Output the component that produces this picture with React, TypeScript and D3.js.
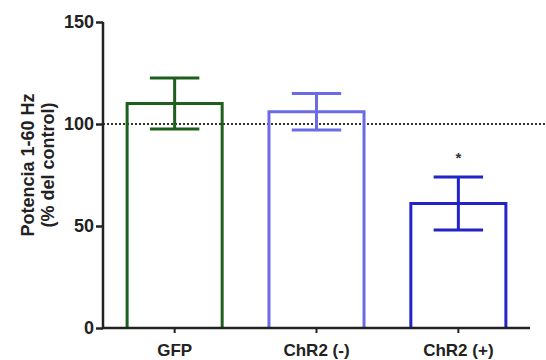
import React, { useEffect, useRef } from 'react';
import * as d3 from 'd3';

// data
const groups = ['GFP', 'ChR2 (-)', 'ChR2 (+)'];
const means = [110, 106, 61];
const errors = [12.5, 9, 13];
const colors = ['#1e5f1e', '#6b6be6', '#2323c8'];
const yTicks = [0, 50, 100, 150];
const starGroups = ['ChR2 (+)'];

const App = () => {
  const svgRef = useRef<SVGSVGElement>(null);

  useEffect(() => {
    const width = 546;
    const height = 360;
    const svg = d3.select(svgRef.current);
    svg.selectAll('*').remove();
    svg.attr('width', width).attr('height', height);

    const x = d3.scaleBand()
      .domain(groups)
      .range([103, 530])
      .paddingInner(0.33)
      .paddingOuter(0.17);
    const y = d3.scaleLinear().domain([0, 150]).range([328, 22]);

    const font = 'Liberation Sans, Arial, sans-serif';

    // reference line at 100%
    svg.append('line')
      .attr('x1', 103).attr('x2', 546)
      .attr('y1', y(100)).attr('y2', y(100))
      .attr('stroke', '#333')
      .attr('stroke-width', 2)
      .attr('stroke-dasharray', '2,2');

    // bars (open)
    const bw = x.bandwidth();
    svg.selectAll('.bar')
      .data(groups)
      .enter()
      .append('path')
      .attr('class', 'bar')
      .attr('d', (g, i) => {
        const x0 = x(g)!;
        return `M${x0},${y(0)}V${y(means[i])}H${x0 + bw}V${y(0)}`;
      })
      .attr('fill', 'none')
      .attr('stroke', (g, i) => colors[i])
      .attr('stroke-width', 3);

    // error bars
    const cap = bw * 0.26;
    groups.forEach((g, i) => {
      const cx = x(g)! + bw / 2;
      const eg = svg.append('g').attr('stroke', colors[i]).attr('stroke-width', 3);
      eg.append('line')
        .attr('x1', cx).attr('x2', cx)
        .attr('y1', y(means[i] - errors[i])).attr('y2', y(means[i] + errors[i]));
      [means[i] - errors[i], means[i] + errors[i]].forEach((v) => {
        eg.append('line')
          .attr('x1', cx - cap).attr('x2', cx + cap)
          .attr('y1', y(v)).attr('y2', y(v));
      });
    });

    // significance marks
    starGroups.forEach((g) => {
      const i = groups.indexOf(g);
      svg.append('text')
        .attr('x', x(g)! + bw / 2)
        .attr('y', y(means[i] + errors[i] + 7))
        .attr('text-anchor', 'middle')
        .attr('font-family', font)
        .attr('font-weight', 'bold')
        .attr('font-size', 15)
        .attr('fill', '#333')
        .text('*');
    });

    // y axis
    const yAxis = svg.append('g')
      .attr('transform', 'translate(103,0)')
      .call(d3.axisLeft(y).tickValues(yTicks).tickSize(7).tickFormat(d3.format('d')));
    yAxis.select('.domain').attr('stroke', '#222').attr('stroke-width', 2.5)
      .attr('d', `M0,${y(150)}V${y(0)}`);
    yAxis.selectAll('.tick line').attr('stroke', '#222').attr('stroke-width', 2.5);
    yAxis.selectAll('.tick text')
      .attr('font-family', font).attr('font-weight', 'bold').attr('font-size', 18)
      .attr('fill', '#222').attr('x', -9);

    // x axis
    const xAxis = svg.append('g')
      .attr('transform', `translate(0,${y(0)})`)
      .call(d3.axisBottom(x).tickSize(5));
    xAxis.select('.domain').attr('stroke', '#222').attr('stroke-width', 2.5)
      .attr('d', 'M103,0H530');
    xAxis.selectAll('.tick line').attr('stroke', '#222').attr('stroke-width', 2);
    xAxis.selectAll('.tick text')
      .attr('font-family', font).attr('font-weight', 'bold').attr('font-size', 17)
      .attr('fill', '#222').attr('y', 28).attr('dy', null);

    // y label
    const lab = svg.append('text')
      .attr('transform', 'translate(0,165) rotate(-90)')
      .attr('text-anchor', 'middle')
      .attr('font-family', font)
      .attr('font-weight', 'bold')
      .attr('font-size', 18)
      .attr('fill', '#222');
    lab.append('tspan').attr('x', 0).attr('y', 34).text('Potencia 1-60 Hz');
    lab.append('tspan').attr('x', 0).attr('y', 54).text('(% del control)');
  }, []);

  return (
    <svg ref={svgRef} style={{ position: 'absolute', left: 0, top: 0 }}></svg>
  );
};

export default App;
